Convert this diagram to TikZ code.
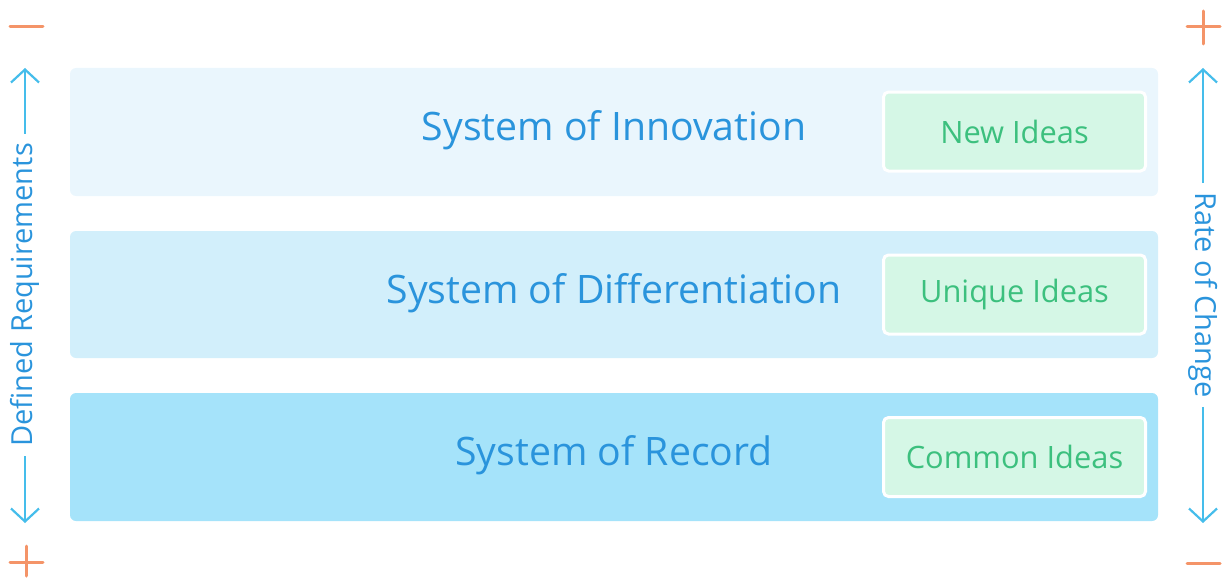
\documentclass[tikz,border=0pt]{standalone}
\usepackage{fontspec}
\setmainfont{Open Sans}
\usetikzlibrary{arrows.meta}
\definecolor{bandA}{HTML}{EAF6FD}
\definecolor{bandB}{HTML}{D2EFFB}
\definecolor{bandC}{HTML}{A5E3FA}
\definecolor{greenfill}{HTML}{D5F7E6}
\definecolor{greentext}{HTML}{3CC07E}
\definecolor{titleblue}{HTML}{2A94DC}
\definecolor{arrowblue}{HTML}{45BDEB}
\definecolor{orangemark}{HTML}{F49468}
\begin{document}
\begin{tikzpicture}[x=1pt,y=-1pt,
  ideabox/.style={rectangle, rounded corners=5pt, fill=greenfill, draw=white, line width=3pt,
    minimum width=262pt, minimum height=79pt, text=greentext, font=\fontsize{30.8}{34}\selectfont},
  bandtitle/.style={text=titleblue, font=\fontsize{39.2}{44}\selectfont},
  sidelabel/.style={text=titleblue, font=\fontsize{29}{33}\selectfont, inner sep=9pt},
  sidearrow/.style={draw=arrowblue, line width=2.2pt, -{Straight Barb[length=13pt,width=28pt,line width=2.2pt]}},
  orangestroke/.style={draw=orangemark, line width=3pt, line cap=round}
]
\useasboundingbox (0,0) rectangle (1223,578);

% bands
\fill[bandA, rounded corners=6pt] (70,68) rectangle (1158,196);
\fill[bandB, rounded corners=6pt] (70,231) rectangle (1158,358);
\fill[bandC, rounded corners=6pt] (70,393) rectangle (1158,521);

% titles
\node[bandtitle] (t1) at (614,130) {System of Innovation};
\node[bandtitle] (t2) at (614,293) {System of Differentiation};
\node[bandtitle] (t3) at (614,455) {System of Record};

% idea boxes
\node[ideabox] (i1) at (1014.5,131.5) {New Ideas};
\node[ideabox] (i2) at (1014.5,294.5) {Unique Ideas};
\node[ideabox] (i3) at (1014.5,457) {Common Ideas};

% left side
\coordinate (ltop) at (25,68);
\coordinate (lbot) at (25,523);
\node[sidelabel, rotate=90] (dl) at (25,295) {Defined Requirements};
\draw[sidearrow] (dl.east) -- (ltop);
\draw[sidearrow] (dl.west) -- (lbot);

% right side
\coordinate (rtop) at (1203,68);
\coordinate (rbot) at (1203,523);
\node[sidelabel, rotate=-90] (rc) at (1203,295) {Rate of Change};
\draw[sidearrow] (rc.west) -- (rtop);
\draw[sidearrow] (rc.east) -- (rbot);

% orange marks
\draw[orangestroke] (10,27) -- (43,27);
\draw[orangestroke] (10,562) -- (43,562);
\draw[orangestroke] (26,546) -- (26,576);
\draw[orangestroke] (1187,27) -- (1220,27);
\draw[orangestroke] (1203,11) -- (1203,44);
\draw[orangestroke] (1187,563) -- (1220,563);
\end{tikzpicture}
\end{document}
